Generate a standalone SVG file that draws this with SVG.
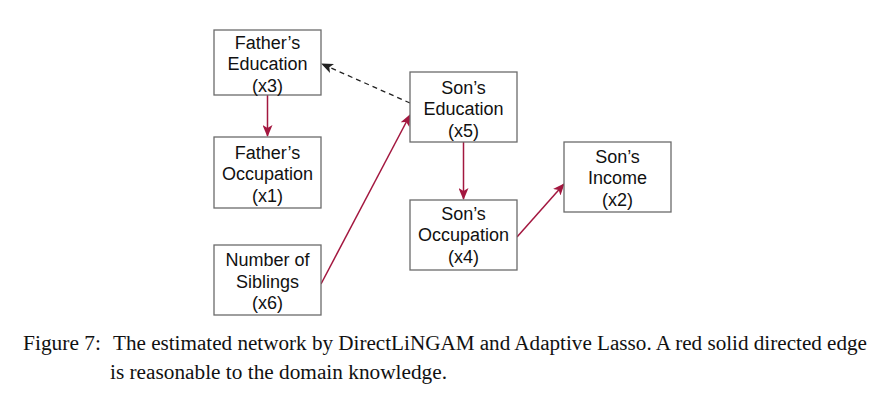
<svg xmlns="http://www.w3.org/2000/svg" width="894" height="400" viewBox="0 0 894 400">
<defs>
<style>
.box{fill:#fff;stroke:#6b6b6b;stroke-width:1.3}
.lbl{font-family:"Liberation Sans",Arial,sans-serif;font-size:18px;fill:#111;text-anchor:middle}
.red{stroke:#a3173f;stroke-width:1.5;fill:none}
.dash{stroke:#222;stroke-width:1.3;fill:none;stroke-dasharray:5,4}
.cap{font-family:"Liberation Serif","Times New Roman",serif;font-size:20px;fill:#111}
</style>
<marker id="ar" viewBox="0 0 12 10" refX="11" refY="5" markerWidth="12" markerHeight="10" markerUnits="userSpaceOnUse" orient="auto">
<path d="M0,0 L12,5 L0,10 L3,5 z" fill="#a3173f"/>
</marker>
<marker id="ak" viewBox="0 0 12 10" refX="11" refY="5" markerWidth="12" markerHeight="10" markerUnits="userSpaceOnUse" orient="auto">
<path d="M0,0 L12,5 L0,10 L3,5 z" fill="#222"/>
</marker>
</defs>
<g id="connectors">
<line class="red" x1="267.5" y1="95" x2="267.5" y2="136" marker-end="url(#ar)"/>
<line class="dash" x1="410" y1="103" x2="322" y2="64" marker-end="url(#ak)"/>
<line class="red" x1="321" y1="284" x2="410" y2="115" marker-end="url(#ar)"/>
<line class="red" x1="463.5" y1="142" x2="463.5" y2="199" marker-end="url(#ar)"/>
<line class="red" x1="517" y1="237" x2="564" y2="184" marker-end="url(#ar)"/>
</g>
<g id="x3">
<rect class="box" x="214" y="30" width="107" height="65"/>
<text class="lbl" x="267.5" y="48.5">Father’s</text>
<text class="lbl" x="267.5" y="70">Education</text>
<text class="lbl" x="267.5" y="92">(x3)</text>
</g>
<g id="x1">
<rect class="box" x="214" y="137" width="107" height="71"/>
<text class="lbl" x="267.5" y="158.5">Father’s</text>
<text class="lbl" x="267.5" y="180">Occupation</text>
<text class="lbl" x="267.5" y="202">(x1)</text>
</g>
<g id="x6">
<rect class="box" x="214" y="245" width="107" height="70"/>
<text class="lbl" x="267.5" y="266">Number of</text>
<text class="lbl" x="267.5" y="287.5">Siblings</text>
<text class="lbl" x="267.5" y="309">(x6)</text>
</g>
<g id="x5">
<rect class="box" x="410" y="72" width="107" height="70"/>
<text class="lbl" x="463.5" y="93.5">Son’s</text>
<text class="lbl" x="463.5" y="115">Education</text>
<text class="lbl" x="463.5" y="137">(x5)</text>
</g>
<g id="x4">
<rect class="box" x="410" y="200" width="107" height="70"/>
<text class="lbl" x="463.5" y="219.5">Son’s</text>
<text class="lbl" x="463.5" y="241">Occupation</text>
<text class="lbl" x="463.5" y="263">(x4)</text>
</g>
<g id="x2">
<rect class="box" x="564" y="142" width="107" height="70"/>
<text class="lbl" x="617.5" y="162.5">Son’s</text>
<text class="lbl" x="617.5" y="184">Income</text>
<text class="lbl" x="617.5" y="206">(x2)</text>
</g>
<g id="caption">
<text class="cap" x="23" y="350" textLength="78" lengthAdjust="spacingAndGlyphs">Figure 7:</text>
<text class="cap" x="113" y="350" textLength="754" lengthAdjust="spacingAndGlyphs">The estimated network by DirectLiNGAM and Adaptive Lasso. A red solid directed edge</text>
<text class="cap" x="110" y="379" textLength="337" lengthAdjust="spacingAndGlyphs">is reasonable to the domain knowledge.</text>
</g>
</svg>
